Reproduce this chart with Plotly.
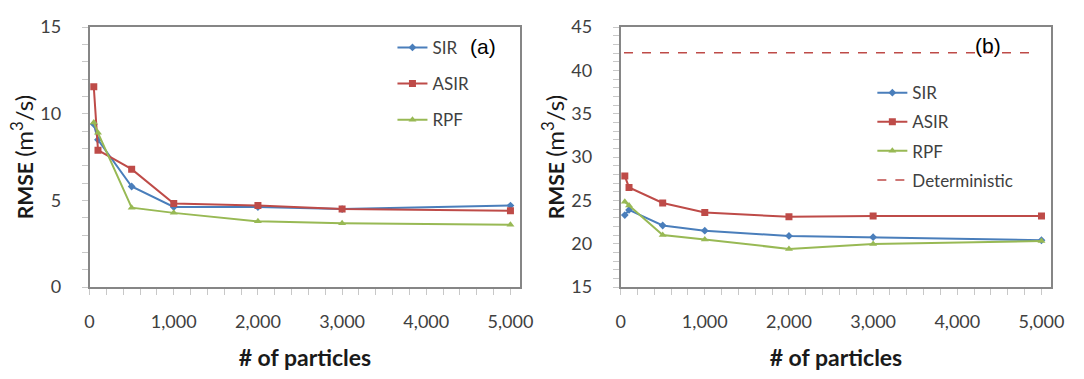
import plotly.graph_objects as go

particles = [50, 100, 500, 1000, 2000, 3000, 5000]

# Panel (a)
sir_a = [9.4, 8.5, 5.8, 4.62, 4.62, 4.5, 4.7]
asir_a = [11.55, 7.9, 6.8, 4.82, 4.71, 4.5, 4.4]
rpf_a = [9.5, 8.9, 4.58, 4.28, 3.79, 3.68, 3.6]

# Panel (b)
sir_b = [23.3, 23.9, 22.1, 21.5, 20.9, 20.75, 20.4]
asir_b = [27.8, 26.5, 24.7, 23.6, 23.1, 23.2, 23.2]
rpf_b = [24.85, 24.4, 21.0, 20.5, 19.4, 19.96, 20.3]
det_x = [40, 4950]
det_b = [42.05, 42.05]

x_ticks = [0, 1000, 2000, 3000, 4000, 5000]
x_ticktext = ["0", "1,000", "2,000", "3,000", "4,000", "5,000"]

BLUE = "#4a7ebb"
RED = "#be4b48"
GREEN = "#98b954"
FONT = "Lato"

fig = go.Figure()

series = [
    ("SIR", BLUE, "diamond", 6),
    ("ASIR", RED, "square", 7),
    ("RPF", GREEN, "triangle-up", 7),
]

for (name, col, sym, sz), ya in zip(series, [sir_a, asir_a, rpf_a]):
    fig.add_trace(go.Scatter(
        x=particles, y=ya, name=name, mode="lines+markers",
        line=dict(color=col, width=2),
        marker=dict(symbol=sym, size=sz, color=col),
        xaxis="x", yaxis="y", legend="legend", legendgroup="a" + name,
    ))

for (name, col, sym, sz), yb in zip(series, [sir_b, asir_b, rpf_b]):
    fig.add_trace(go.Scatter(
        x=particles, y=yb, name=name, mode="lines+markers",
        line=dict(color=col, width=2),
        marker=dict(symbol=sym, size=sz, color=col),
        xaxis="x2", yaxis="y2", legend="legend2", legendgroup="b" + name,
    ))

fig.add_trace(go.Scatter(
    x=det_x, y=det_b, name="Deterministic", mode="lines",
    line=dict(color=RED, width=1.5, dash="dash"),
    xaxis="x2", yaxis="y2", legend="legend2", legendgroup="bdet",
))

axis_common = dict(
    showline=True, linecolor="#868686", linewidth=1.5, mirror=True,
    showgrid=False, zeroline=False,
    ticks="outside", ticklen=6, tickcolor="#c8c8c8",
    tickfont=dict(family=FONT, size=18, color="#404040"),
)

xaxis_common = dict(
    axis_common, range=[0, 5117], tickvals=x_ticks, ticktext=x_ticktext,
    minor=dict(dtick=200, ticks="outside", ticklen=6, tickcolor="#c8c8c8"),
    ticklabelstandoff=12,
    title=dict(text="<b># of particles</b>", font=dict(family=FONT, size=23, color="#1a1a1a"), standoff=18),
)

ytitle = dict(
    text="<b>RMSE</b> <span style='font-size:24px'>(m<sup>3</sup>/s)</span>",
    font=dict(family=FONT, size=21, color="#1a1a1a"), standoff=1,
)

fig.update_layout(
    width=1084, height=379,
    margin=dict(l=0, r=0, t=0, b=0),
    paper_bgcolor="white", plot_bgcolor="white",
    xaxis=dict(xaxis_common, domain=[86 / 1084, 524 / 1084], anchor="y"),
    xaxis2=dict(xaxis_common, domain=[626 / 1084, 1064 / 1084], anchor="y2"),
    yaxis=dict(axis_common, domain=[1 - 292 / 379, 1 - 16 / 379], anchor="x",
               range=[0, 15], tickvals=[0, 5, 10, 15], ticklabelstandoff=17,
               minor=dict(dtick=1, ticks="outside", ticklen=6, tickcolor="#c8c8c8"),
               title=ytitle),
    yaxis2=dict(axis_common, domain=[1 - 292 / 379, 1 - 16 / 379], anchor="x2",
                range=[15, 45], tickvals=[15, 20, 25, 30, 35, 40, 45], ticklabelstandoff=17,
                minor=dict(dtick=1, ticks="outside", ticklen=6, tickcolor="#c8c8c8"),
                title=ytitle),
    legend=dict(x=394 / 1084, y=1 - 19 / 379, xanchor="left", yanchor="top",
                bgcolor="rgba(0,0,0,0)", font=dict(family=FONT, size=17, color="#404040"),
                tracegroupgap=11, itemwidth=30),
    legend2=dict(x=882 / 1084, y=1 - 67 / 379, xanchor="left", yanchor="top",
                 bgcolor="rgba(0,0,0,0)", font=dict(family=FONT, size=17, color="#404040"),
                 tracegroupgap=4, itemwidth=30),
    showlegend=True,
    annotations=[
        dict(text="(a)", x=486 / 1084, y=1 - 37 / 379, xref="paper", yref="paper",
             xanchor="center", yanchor="middle",
             showarrow=False, font=dict(family="Liberation Sans", size=21, color="black")),
        dict(text="(b)", x=1000 / 1084, y=1 - 36 / 379, xref="paper", yref="paper",
             xanchor="center", yanchor="middle",
             showarrow=False, font=dict(family="Liberation Sans", size=21, color="black")),
    ],
)

fig.write_html("out.html")
